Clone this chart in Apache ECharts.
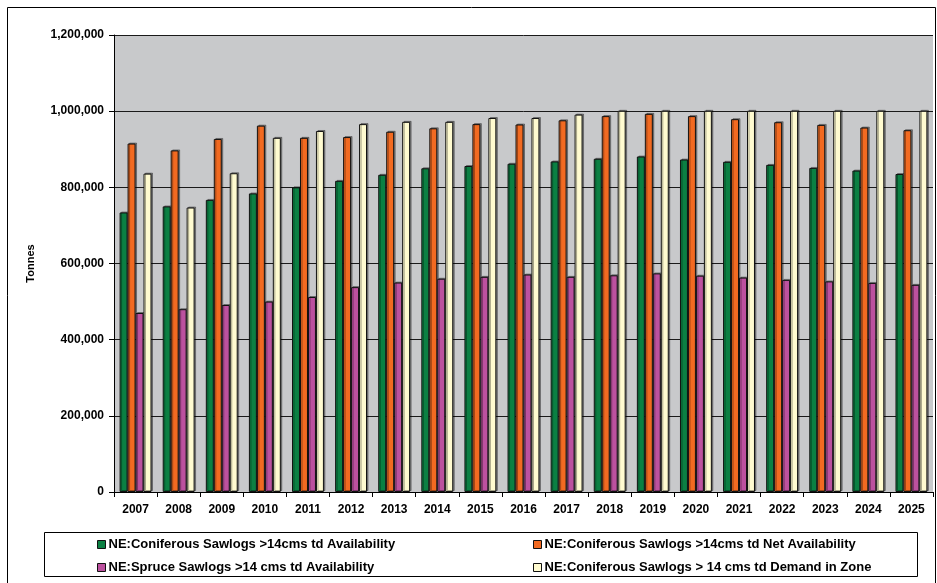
<!DOCTYPE html>
<html>
<head>
<meta charset="utf-8">
<script src="https://cdn.jsdelivr.net/npm/echarts@6/dist/echarts.min.js"></script>
<style>
html,body{margin:0;padding:0;background:#fff;}
#chart{width:937px;height:583px;}
</style>
</head>
<body>
<div id="chart"></div>
<script>
var years = ['2007','2008','2009','2010','2011','2012','2013','2014','2015','2016','2017','2018','2019','2020','2021','2022','2023','2024','2025'];
var coniferousAvail = [734000,750000,767000,784000,800000,817000,833000,850000,856000,862000,868000,875000,881000,873000,867000,859000,851000,844000,835000];
var coniferousNet = [915000,897000,927000,962000,930000,932000,946000,955000,966000,965000,976000,987000,993000,987000,979000,971000,964000,957000,950000];
var spruceAvail = [470000,480000,491000,500000,512000,538000,550000,560000,565000,571000,565000,569000,574000,568000,563000,557000,553000,549000,544000];
var coniferousDemand = [836000,747000,837000,930000,948000,966000,972000,972000,982000,982000,991000,1001000,1001000,1001000,1001000,1001000,1001000,1001000,1001000];
var seriesNames = [
  'NE:Coniferous Sawlogs >14cms td Availability',
  'NE:Coniferous Sawlogs >14cms td Net Availability',
  'NE:Spruce Sawlogs >14 cms td Availability',
  'NE:Coniferous Sawlogs > 14 cms td Demand in Zone'
];
var yTicks = {min:0, max:1200000, interval:200000};

var colors = ['#0B8043','#F26A21','#BC519F','#FFFBD0'];
var font = 'Liberation Sans, Arial, sans-serif';
var chart = echarts.init(document.getElementById('chart'));
var dataArr = [coniferousAvail, coniferousNet, spruceAvail, coniferousDemand];

function fmt(v){ return v.toString().replace(/\B(?=(\d{3})+(?!\d))/g, ','); }

var series = seriesNames.map(function(n,i){
  return {
    name:n, type:'bar', data:dataArr[i],
    barGap:'0%', barCategoryGap:'26%',
    itemStyle:{color:colors[i], borderColor:'#111', borderWidth:1,
      shadowColor:'rgba(0,0,0,0.35)', shadowOffsetX:1.5, shadowOffsetY:-1, shadowBlur:0},
    emphasis:{disabled:true},
    animation:false
  };
});

var legendPos = [[97,538],[533,538],[97,561],[533,561]];
var legends = seriesNames.map(function(n,i){
  return {
    data:[n], left:legendPos[i][0], top:legendPos[i][1],
    itemWidth:8, itemHeight:8, itemGap:0,
    icon:'rect', selectedMode:false, padding:0,
    itemStyle:{borderColor:'#111', borderWidth:1},
    textStyle:{fontFamily:font, fontWeight:'bold', fontSize:13, color:'#000', padding:[0,0,0,-2]}
  };
});

chart.setOption({
  animation:false,
  textStyle:{fontFamily:font},
  grid:{left:114, top:35, right:4, bottom:91, show:true, backgroundColor:'#C8C9CB', borderColor:'#555', borderWidth:0},
  legend:legends,
  xAxis:{
    type:'category', data:years,
    axisLine:{show:true, lineStyle:{color:'#000', width:1}},
    axisTick:{show:true, length:5, lineStyle:{color:'#000'}},
    axisLabel:{fontFamily:font, fontWeight:'bold', fontSize:12, color:'#000', margin:12}
  },
  yAxis:{
    type:'value', min:yTicks.min, max:yTicks.max, interval:yTicks.interval,
    name:'Tonnes', nameLocation:'middle', nameGap:78, nameRotate:90,
    nameTextStyle:{fontFamily:font, fontWeight:'bold', fontSize:11, color:'#000'},
    axisLine:{show:true, lineStyle:{color:'#000', width:1}},
    axisTick:{show:true, length:5, lineStyle:{color:'#000'}},
    axisLabel:{fontFamily:font, fontWeight:'bold', fontSize:12, color:'#000', margin:10, formatter:fmt},
    splitLine:{show:true, lineStyle:{color:'#1a1a1a', width:1}}
  },
  series:series,
  graphic:[
    {type:'rect', shape:{x:7.5, y:7.5, width:928, height:590}, style:{fill:'none', stroke:'#000', lineWidth:1}, silent:true},
    {type:'rect', shape:{x:44.5, y:532.5, width:873, height:44}, style:{fill:'none', stroke:'#000', lineWidth:1}, silent:true, z:-1}
  ]
});
</script>
</body>
</html>
